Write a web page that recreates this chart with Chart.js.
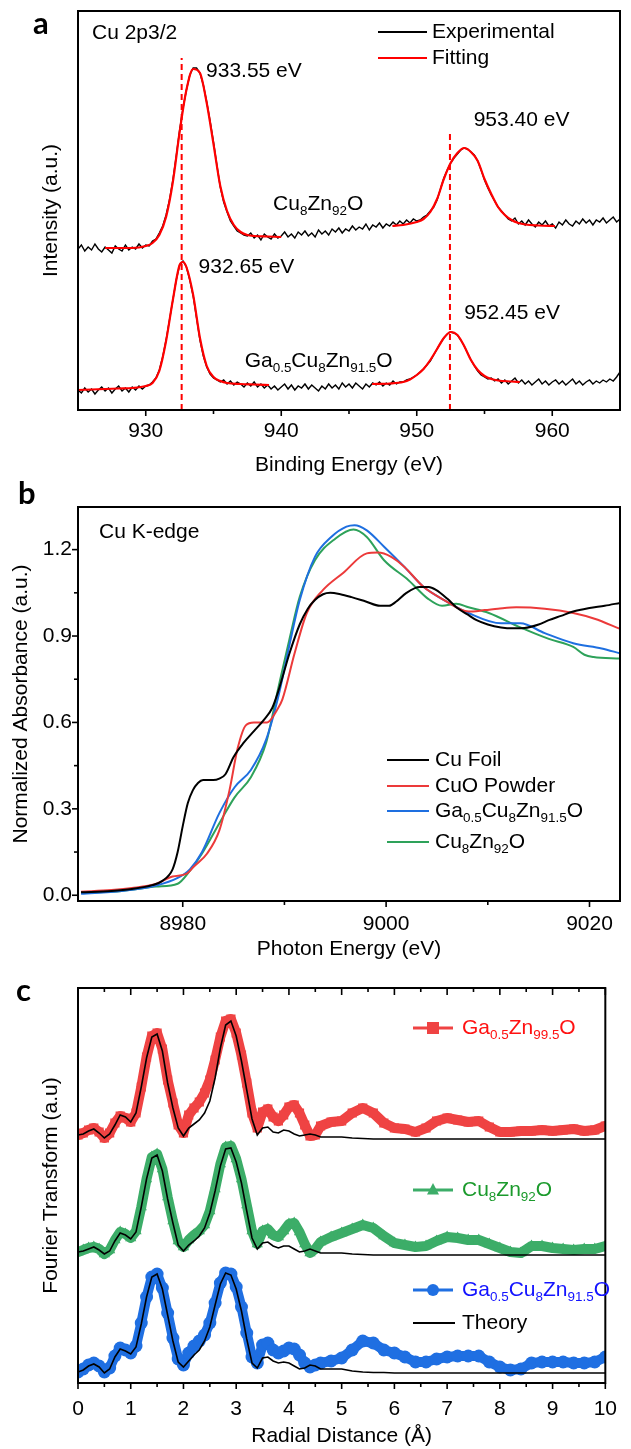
<!DOCTYPE html>
<html>
<head>
<meta charset="utf-8">
<script src="https://cdn.jsdelivr.net/npm/chart.js@4.4.1/dist/chart.umd.min.js"></script>
<style>
    html, body { margin: 0; padding: 0; background: #fff; }
    #wrap { position: relative; width: 631px; height: 1449px; overflow: hidden; }
    canvas { position: absolute; left: 0; }
</style>
</head>
<body>
<div id="wrap">
    <canvas id="xpsChart" width="631" height="480" style="top:0px"></canvas>
    <canvas id="xanesChart" width="631" height="480" style="top:480px"></canvas>
    <canvas id="exafsChart" width="631" height="489" style="top:960px"></canvas>
</div>
<script>
// ---------- Panel a: XPS Cu 2p (intensity in a.u.) ----------
const xpsEnergy = [
    925, 925.25, 925.5, 925.75, 926, 926.25, 926.5, 926.75,
    927, 927.25, 927.5, 927.75, 928, 928.25, 928.5, 928.75,
    929, 929.25, 929.5, 929.75, 930, 930.25, 930.5, 930.75,
    931, 931.25, 931.5, 931.75, 932, 932.25, 932.5, 932.75,
    933, 933.25, 933.5, 933.75, 934, 934.25, 934.5, 934.75,
    935, 935.25, 935.5, 935.75, 936, 936.25, 936.5, 936.75,
    937, 937.25, 937.5, 937.75, 938, 938.25, 938.5, 938.75,
    939, 939.25, 939.5, 939.75, 940, 940.25, 940.5, 940.75,
    941, 941.25, 941.5, 941.75, 942, 942.25, 942.5, 942.75,
    943, 943.25, 943.5, 943.75, 944, 944.25, 944.5, 944.75,
    945, 945.25, 945.5, 945.75, 946, 946.25, 946.5, 946.75,
    947, 947.25, 947.5, 947.75, 948, 948.25, 948.5, 948.75,
    949, 949.25, 949.5, 949.75, 950, 950.25, 950.5, 950.75,
    951, 951.25, 951.5, 951.75, 952, 952.25, 952.5, 952.75,
    953, 953.25, 953.5, 953.75, 954, 954.25, 954.5, 954.75,
    955, 955.25, 955.5, 955.75, 956, 956.25, 956.5, 956.75,
    957, 957.25, 957.5, 957.75, 958, 958.25, 958.5, 958.75,
    959, 959.25, 959.5, 959.75, 960, 960.25, 960.5, 960.75,
    961, 961.25, 961.5, 961.75, 962, 962.25, 962.5, 962.75,
    963, 963.25, 963.5, 963.75, 964, 964.25, 964.5, 964.75,
    965
]
const cuZnExp = [
    161, 165, 159, 163, 160, 166, 161, 158,
    163, 160, 157, 164, 161, 159, 165, 160,
    163, 161, 166, 162, 165, 164, 169, 171,
    177, 184, 195, 210, 230, 254, 280, 302,
    320, 335, 342, 342, 337, 325, 308, 289,
    268, 245, 223, 208, 198, 189, 184, 179,
    177, 175, 174, 177, 172, 175, 170, 176,
    173, 171, 176, 172, 174, 178, 173, 176,
    172, 178, 175, 179, 174, 177, 173, 180,
    176, 179, 175, 181, 178, 182, 177, 181,
    179, 184, 180, 183, 181, 186, 180, 185,
    183, 187, 182, 186, 184, 188, 185, 189,
    186, 190, 187, 191, 189, 190, 193, 195,
    199, 203, 210, 221, 232, 240, 247, 252,
    256, 260, 262, 261, 258, 255, 249, 240,
    230, 222, 215, 209, 203, 199, 195, 191,
    189, 192, 186, 189, 185, 190, 186, 183,
    188, 185, 189, 184, 186, 182, 188, 185,
    190, 186, 184, 189, 186, 191, 187, 190,
    185, 190, 188, 192, 187, 190, 193, 188,
    191
]
const gaCuZnExp = [
    20, 17, 22, 18, 21, 16, 20, 23,
    19, 22, 17, 21, 24, 19, 22, 18,
    23, 20, 24, 21, 24, 25, 28, 32,
    40, 53, 70, 90, 110, 130, 145, 149,
    143, 130, 114, 92, 70, 54, 43, 36,
    32, 30, 28, 30, 26, 29, 25, 28,
    26, 23, 27, 24, 28, 23, 26, 22,
    25, 21, 24, 20, 23, 26, 21, 25,
    20, 24, 22, 26, 21, 25, 22, 19,
    24, 21, 26, 22, 25, 21, 27, 23,
    26, 22, 27, 24, 21, 26, 23, 27,
    25, 28, 24, 27, 25, 29, 26, 28,
    28, 30, 31, 33, 35, 38, 41, 45,
    49, 55, 61, 67, 72, 76, 78, 77,
    75, 70, 64, 57, 50, 44, 39, 35,
    33, 31, 32, 29, 31, 27, 30, 26,
    29, 32, 27, 30, 26, 29, 25, 28,
    31, 26, 29, 25, 28, 30, 26, 29,
    25, 28, 31, 26, 29, 25, 28, 30,
    26, 29, 27, 30, 28, 31, 29, 33,
    38
]
// fitted envelopes (two segments per sample)
const cuZnFit1E = [927, 928, 929, 930, 930.5, 931, 931.5, 932, 932.5, 933, 933.5, 934, 934.5, 935, 935.5, 936, 936.5, 937, 937.5, 938, 939, 940]
const cuZnFit1I = [162, 162, 162, 164, 167, 175, 193, 228, 278, 320, 341, 337, 307, 266, 224, 199, 185, 178, 175, 174, 173.5, 173]
const cuZnFit2E = [948.2, 949, 950, 950.5, 951, 951.5, 952, 952.5, 953, 953.5, 954, 954.5, 955, 955.5, 956, 956.5, 957, 957.5, 958, 959, 960.2]
const cuZnFit2I = [184, 185, 188, 191, 198, 211, 231, 247, 257, 262, 258, 249, 231, 216, 203, 195, 190, 187, 185.5, 184.5, 184]
const gaFit1E = [925, 926, 927, 928, 929, 930, 930.5, 931, 931.5, 932, 932.5, 932.75, 933, 933.5, 934, 934.5, 935, 935.5, 936, 937, 938, 939.1]
const gaFit1I = [20, 20.5, 21, 21.5, 22, 24, 27, 39, 69, 110, 145, 148, 143, 115, 72, 44, 33, 29, 27, 26, 25.5, 25]
const gaFit2E = [946.7, 948, 949, 949.5, 950, 950.5, 951, 951.5, 952, 952.5, 953, 953.5, 954, 954.5, 955, 955.5, 956, 957, 957.6]
const gaFit2I = [26, 26.5, 28, 30.5, 35, 41, 50, 61, 72, 78, 75, 64, 50, 40, 34, 31, 29.5, 28.5, 28]
// peak reference lines
const peakLineE = [932.65, 952.45]
const peakLineTop = [352, 277]
const xpsMajorTicks = [930, 940, 950, 960]
const xpsMinorTicks = [935, 945, 955]

// ---------- Panel b: Cu K-edge XANES ----------
const cuFoilE = [8970, 8973, 8975, 8977, 8978, 8979, 8979.5, 8980, 8980.5, 8981, 8981.5, 8982, 8983, 8983.6, 8984.2, 8985, 8986, 8987, 8988, 8988.8, 8989.5, 8990.5, 8991.5, 8992.3, 8993, 8993.8, 8994.5, 8995.5, 8996.6, 8998, 8999.4, 9000.3, 9001, 9002, 9003.3, 9004.2, 9004.9, 9006, 9006.9, 9008, 9008.9, 9010, 9011.3, 9012.5, 9013.6, 9015, 9016, 9017.2, 9018.4, 9020, 9021.5, 9023]
const cuFoilMu = [0.010, 0.015, 0.022, 0.035, 0.05, 0.09, 0.15, 0.24, 0.32, 0.365, 0.39, 0.40, 0.40, 0.405, 0.42, 0.48, 0.53, 0.57, 0.61, 0.65, 0.72, 0.84, 0.94, 0.995, 1.025, 1.045, 1.05, 1.045, 1.035, 1.02, 1.005, 1.005, 1.02, 1.05, 1.07, 1.07, 1.06, 1.03, 1.0, 0.975, 0.955, 0.94, 0.93, 0.927, 0.928, 0.94, 0.955, 0.97, 0.985, 0.997, 1.005, 1.015]
const cuoE = [8970, 8973, 8975, 8977.4, 8979, 8980.4, 8981.1, 8982.4, 8983.6, 8984.6, 8985.4, 8986.2, 8987, 8988.3, 8989.3, 8989.8, 8991, 8992.2, 8993.8, 8995.8, 8998.1, 8999.2, 9000.5, 9001.8, 9003.7, 9005.7, 9008.1, 9009.7, 9011, 9012.8, 9015.6, 9018.4, 9020.5, 9023]
const cuoMu = [0.012, 0.018, 0.025, 0.04, 0.065, 0.075, 0.10, 0.145, 0.225, 0.365, 0.51, 0.59, 0.60, 0.60, 0.645, 0.68, 0.84, 0.98, 1.06, 1.12, 1.187, 1.19, 1.175, 1.14, 1.07, 1.025, 0.985, 0.99, 0.995, 1.0, 0.995, 0.98, 0.96, 0.925]
const gaCuZnE = [8970, 8974, 8977.4, 8979.5, 8980.7, 8981.9, 8983.6, 8985.1, 8986.7, 8988.2, 8989.4, 8990.5, 8991.5, 8993, 8994.6, 8996.1, 8996.9, 8998.1, 8999.8, 9001.8, 9003.7, 9005.7, 9008.1, 9011.3, 9013.2, 9015.6, 9018.4, 9021.2, 9023]
const gaCuZnMu = [0.005, 0.015, 0.034, 0.06, 0.09, 0.15, 0.285, 0.375, 0.435, 0.54, 0.69, 0.87, 1.024, 1.175, 1.244, 1.28, 1.285, 1.267, 1.21, 1.14, 1.07, 1.025, 0.98, 0.944, 0.944, 0.91, 0.875, 0.857, 0.84]
const cuZnE = [8970, 8974, 8977.4, 8979.5, 8980.7, 8981.9, 8983.6, 8985.1, 8986.7, 8988.2, 8989.4, 8990.5, 8991.5, 8993, 8995, 8996.8, 8998.1, 8999.8, 9002.2, 9004.1, 9005.5, 9006.9, 9008.1, 9010.1, 9013.2, 9016, 9018.4, 9019.5, 9020.4, 9023]
const cuZnMu = [0.008, 0.015, 0.03, 0.04, 0.085, 0.145, 0.25, 0.34, 0.41, 0.53, 0.72, 0.89, 1.035, 1.163, 1.238, 1.27, 1.244, 1.163, 1.094, 1.03, 1.005, 1.012, 1.0, 0.98, 0.93, 0.89, 0.862, 0.835, 0.827, 0.822]
const xanesXMajor = [8980, 9000, 9020]
const xanesXMinor = [8990, 9010]
const xanesYMajor = [0, 0.3, 0.6, 0.9, 1.2]
const xanesYMinor = [0.15, 0.45, 0.75, 1.05]

// ---------- Panel c: EXAFS Fourier transform (offset, a.u.) ----------
const radialR = [
    0, 0.1, 0.2, 0.3, 0.4, 0.5, 0.6, 0.7, 0.8, 0.9,
    1.0, 1.1, 1.2, 1.3, 1.4, 1.5, 1.6, 1.7, 1.8, 1.9,
    2.0, 2.1, 2.2, 2.3, 2.4, 2.5, 2.6, 2.7, 2.8, 2.9,
    3.0, 3.1, 3.2, 3.3, 3.4, 3.5, 3.6, 3.7, 3.8, 3.9,
    4.0, 4.1, 4.2, 4.3, 4.4, 4.5, 4.6,
    4.8, 5.0, 5.2, 5.4, 5.6, 5.8, 6.0, 6.2, 6.4, 6.6,
    6.8, 7.0, 7.2, 7.4, 7.6, 7.8, 8.0, 8.2, 8.4, 8.6,
    8.8, 9.0, 9.2, 9.4, 9.6, 9.8, 10.0
]
const gaZnFT = [
    248, 250, 253, 255, 251, 245, 250, 260, 267, 265,
    261, 270, 296, 326, 347, 350, 334, 303, 280, 258,
    250, 268, 275, 281, 290, 303, 323, 346, 362, 364,
    350, 328, 300, 270, 255, 271, 274, 266, 262, 268,
    276, 278, 270, 258, 247, 248, 257,
    261, 262, 270, 275, 270, 260, 255, 254, 251, 255,
    262, 265, 263, 261, 262, 256, 251, 251, 252, 252,
    253, 252, 253, 254, 252, 253, 257
]
const gaZnTheory = [
    248, 249, 252, 254, 250, 245, 249, 258, 268, 266,
    261, 270, 296, 325, 346, 349, 332, 300, 275, 255,
    247, 255, 259, 263, 270, 282, 305, 335, 358, 362,
    347, 322, 293, 264, 248, 255, 256, 251, 250, 253,
    252, 249, 247, 248, 249, 248, 246,
    246, 246, 245, 244.5, 244, 244, 244, 244, 244, 244,
    244, 244, 244, 244, 244, 244, 244, 244, 244, 244,
    244, 244, 244, 244, 244, 244, 244
]
const cuZnFT = [
    131, 133, 135, 136, 134, 129, 133, 143, 151, 149,
    145, 152, 176, 204, 226, 229, 214, 186, 162, 142,
    136, 143, 148, 152, 158, 172, 194, 219, 236, 237,
    224, 204, 178, 152, 139, 152, 154, 148, 146, 152,
    159, 160, 151, 139, 130, 134, 141,
    146, 150, 154, 158, 155, 147, 140, 138, 136, 137,
    142, 146, 145, 143, 143, 139, 135, 131, 130, 137,
    137, 135, 134, 133, 134, 134, 137
]
const cuZnTheory = [
    131, 132, 134, 136, 133, 129, 132, 142, 150, 148,
    144, 151, 176, 204, 225, 228, 212, 184, 160, 138,
    132, 138, 142, 147, 155, 170, 192, 217, 234, 235,
    221, 200, 172, 145, 134, 140, 141, 137, 135, 137,
    137, 134, 131, 132, 134, 132, 130,
    130, 130, 129, 128.5, 128, 128, 128, 128, 128, 128,
    128, 128, 128, 128, 128, 128, 128, 128, 128, 128,
    128, 128, 128, 128, 128, 128, 128
]
const gaCuZnFT = [
    11, 14, 18, 20, 17, 11, 15, 27, 35, 33,
    30, 37, 60, 86, 106, 109, 95, 70, 45, 24,
    18, 30, 37, 42, 48, 60, 80, 100, 110, 109,
    96, 76, 50, 26, 20, 38, 40, 33, 30, 32,
    35, 34, 28, 20, 16, 18, 20,
    22, 25, 33, 42, 40, 33, 30, 26, 21, 21,
    24, 26, 27, 27, 27, 21, 16, 13, 14, 20,
    21, 21, 21, 20, 20, 21, 26
]
const gaCuZnTheory = [
    11, 13, 17, 19, 16, 10, 14, 26, 34, 32,
    29, 36, 59, 86, 106, 109, 94, 68, 42, 21,
    16, 22, 28, 33, 42, 56, 78, 99, 110, 108,
    94, 72, 44, 20, 15, 25, 26, 22, 20, 21,
    20, 17, 14, 15, 18, 17, 14,
    14, 14, 12, 11, 10.5, 10.5, 10, 10, 10, 10,
    10, 10, 10, 10, 10, 10, 10, 10, 10, 10,
    10, 10, 10, 10, 10, 10, 10
]
const radialMajor = [0, 1, 2, 3, 4, 5, 6, 7, 8, 9, 10]
const radialMinor = [0.5, 1.5, 2.5, 3.5, 4.5, 5.5, 6.5, 7.5, 8.5, 9.5]

// colours
const RED = '#ff0000'
const XANES_COLORS = { foil: '#000000', cuo: '#ec3a3a', ga: '#1e6fe0', cuzn: '#2ea25a' }
const FT_COLORS = { ga: '#ef4343', cuzn: '#3cad68', gacu: '#1f6fe2' }
const FT_TEXT = { ga: '#ff1111', cuzn: '#1b9a2c', gacu: '#1313ff' }

const FONT = "'Liberation Sans', Arial, Helvetica, sans-serif"
Chart.defaults.font.family = FONT
Chart.defaults.color = '#000'

const toPoints = (xs, ys) => xs.map((x, i) => ({ x: x, y: ys[i] }))

/**
 * Split 'Cu_{8}Zn_{92}O' into normal / subscript pieces
 */
function richParts(label) {
    const parts = []
    const re = /_\{([^}]*)\}/g
    let last = 0
    let m
    while ((m = re.exec(label)) !== null) {
        if (m.index > last) parts.push([label.slice(last, m.index), false])
        parts.push([m[1], true])
        last = re.lastIndex
    }
    if (last < label.length) parts.push([label.slice(last), false])
    return parts
}

function drawRichText(ctx, label, x, y, size, color) {
    ctx.save()
    ctx.fillStyle = color
    ctx.textBaseline = 'middle'
    ctx.textAlign = 'left'
    let cx = x
    richParts(label).forEach(([text, sub]) => {
        const fs = sub ? size * 0.64 : size
        ctx.font = `${fs}px ${FONT}`
        ctx.fillText(text, cx, sub ? y + size * 0.34 : y)
        cx += ctx.measureText(text).width
    })
    ctx.restore()
}

function drawMarker(ctx, style, x, y, r, color) {
    ctx.save()
    ctx.fillStyle = color
    ctx.beginPath()
    if (style === 'rect') {
        ctx.rect(x - r, y - r, 2 * r, 2 * r)
    } else if (style === 'triangle') {
        ctx.moveTo(x, y - r * 1.15)
        ctx.lineTo(x + r, y + r * 0.75)
        ctx.lineTo(x - r, y + r * 0.75)
        ctx.closePath()
    } else {
        ctx.arc(x, y, r, 0, Math.PI * 2)
    }
    ctx.fill()
    ctx.restore()
}

// frame, tick marks, legends and text labels
const overlayPlugin = {
    id: 'overlay',
    afterDatasetsDraw(chart, args, opts) {
        const { ctx, chartArea: area } = chart

        ctx.save()
        ctx.strokeStyle = '#000'
        ctx.lineWidth = 2
        ctx.strokeRect(area.left, area.top, area.right - area.left, area.bottom - area.top)

        ctx.lineWidth = 1.6
        ;(opts.tickSets || []).forEach(set => {
            const scale = chart.scales[set.axis]
            set.values.forEach(v => {
                const p = scale.getPixelForValue(v)
                ctx.beginPath()
                if (set.side === 'bottom') {
                    ctx.moveTo(p, area.bottom)
                    ctx.lineTo(p, area.bottom + set.len)
                } else if (set.side === 'top') {
                    ctx.moveTo(p, area.top)
                    ctx.lineTo(p, area.top + set.len)
                } else {
                    ctx.moveTo(area.left, p)
                    ctx.lineTo(area.left - set.len, p)
                }
                ctx.stroke()
            })
        })
        ctx.restore()

        ;(opts.legend || []).forEach(item => {
            ctx.save()
            ctx.strokeStyle = item.color
            ctx.lineWidth = item.width || 2
            ctx.beginPath()
            ctx.moveTo(item.x0, item.y)
            ctx.lineTo(item.x1, item.y)
            ctx.stroke()
            ctx.restore()
            if (item.marker) drawMarker(ctx, item.marker, (item.x0 + item.x1) / 2, item.y, 6, item.color)
            drawRichText(ctx, item.label, item.x1 + item.gap, item.y, 21, item.textColor || '#000')
        })

        ;(opts.texts || []).forEach(t => {
            let x = t.x
            let y = t.y
            if (t.data) {
                x = chart.scales.x.getPixelForValue(t.x)
                y = chart.scales.y.getPixelForValue(t.y)
            }
            drawRichText(ctx, t.text, x, y, 21, '#000')
        })

        if (opts.letter) {
            ctx.save()
            ctx.font = `bold 31px Lato, 'Open Sans', sans-serif`
            ctx.fillStyle = '#000'
            ctx.textBaseline = 'middle'
            ctx.fillText(opts.letter.text, opts.letter.x, opts.letter.y)
            ctx.restore()
        }
    }
}

function axisTitle(text, padding) {
    return { display: true, text: text, color: '#000', font: { family: FONT, size: 21, lineHeight: 1 }, padding: padding }
}

function fixedTicks(values) {
    return scale => { scale.ticks = values.map(v => ({ value: v })) }
}

// plain labels, no thousands separator
const plainLabel = v => String(v)

const baseOptions = {
    responsive: false,
    animation: false,
    devicePixelRatio: 1,
    events: [],
    elements: { point: { radius: 0 }, line: { tension: 0 } }
}

// ---------- build panel a ----------
const xpsDatasets = [
    ...peakLineE.map((e, i) => ({
        data: toPoints([e, e], [0, peakLineTop[i]]),
        borderColor: RED, borderWidth: 2, borderDash: [6, 4], order: 0
    })),
    { data: toPoints(cuZnFit1E, cuZnFit1I), borderColor: RED, borderWidth: 2.2, cubicInterpolationMode: 'monotone', order: 1 },
    { data: toPoints(cuZnFit2E, cuZnFit2I), borderColor: RED, borderWidth: 2.2, cubicInterpolationMode: 'monotone', order: 1 },
    { data: toPoints(gaFit1E, gaFit1I), borderColor: RED, borderWidth: 2.2, cubicInterpolationMode: 'monotone', order: 1 },
    { data: toPoints(gaFit2E, gaFit2I), borderColor: RED, borderWidth: 2.2, cubicInterpolationMode: 'monotone', order: 1 },
    { data: toPoints(xpsEnergy, cuZnExp), borderColor: '#000', borderWidth: 1.4, order: 2 },
    { data: toPoints(xpsEnergy, gaCuZnExp), borderColor: '#000', borderWidth: 1.4, order: 2 }
]

new Chart(document.getElementById('xpsChart'), {
    type: 'line',
    data: { datasets: xpsDatasets },
    options: {
        ...baseOptions,
        layout: { padding: { top: 11, right: 11, left: 0, bottom: 0 } },
        scales: {
            x: {
                type: 'linear', min: 925, max: 965,
                afterBuildTicks: fixedTicks(xpsMajorTicks),
                afterFit: s => { s.height = 70 },
                grid: { display: false, drawTicks: false },
                border: { display: false },
                ticks: { font: { size: 21 }, color: '#000', padding: 9, maxRotation: 0, callback: plainLabel },
                title: axisTitle('Binding Energy (eV)', { top: 0, bottom: 4 })
            },
            y: {
                min: 0, max: 399,
                afterFit: s => { s.width = 78 },
                grid: { display: false, drawTicks: false },
                border: { display: false },
                ticks: { display: false },
                title: axisTitle('Intensity (a.u.)', { top: 41, bottom: 0 })
            }
        },
        plugins: {
            legend: { display: false },
            tooltip: { enabled: false },
            overlay: {
                letter: { text: 'a', x: 33, y: 24 },
                tickSets: [
                    { axis: 'x', side: 'bottom', values: xpsMajorTicks, len: 6 },
                    { axis: 'x', side: 'bottom', values: xpsMinorTicks, len: 4 }
                ],
                legend: [
                    { label: 'Experimental', color: '#000', x0: 378, x1: 427, gap: 5, y: 32 },
                    { label: 'Fitting', color: RED, x0: 378, x1: 427, gap: 5, y: 58 }
                ],
                texts: [
                    { text: 'Cu 2p3/2', x: 92, y: 33 },
                    { text: '933.55 eV', x: 934.45, y: 339, data: true },
                    { text: '953.40 eV', x: 954.2, y: 290, data: true },
                    { text: 'Cu_{8}Zn_{92}O', x: 939.4, y: 206, data: true },
                    { text: '932.65 eV', x: 933.9, y: 143, data: true },
                    { text: '952.45 eV', x: 953.5, y: 97, data: true },
                    { text: 'Ga_{0.5}Cu_{8}Zn_{91.5}O', x: 937.3, y: 49, data: true }
                ]
            }
        }
    },
    plugins: [overlayPlugin]
})

// ---------- build panel b ----------
new Chart(document.getElementById('xanesChart'), {
    type: 'line',
    data: {
        datasets: [
            { data: toPoints(cuZnE, cuZnMu), borderColor: XANES_COLORS.cuzn, borderWidth: 2, cubicInterpolationMode: 'monotone', order: 4 },
            { data: toPoints(gaCuZnE, gaCuZnMu), borderColor: XANES_COLORS.ga, borderWidth: 2, cubicInterpolationMode: 'monotone', order: 3 },
            { data: toPoints(cuoE, cuoMu), borderColor: XANES_COLORS.cuo, borderWidth: 2, cubicInterpolationMode: 'monotone', order: 2 },
            { data: toPoints(cuFoilE, cuFoilMu), borderColor: XANES_COLORS.foil, borderWidth: 2, cubicInterpolationMode: 'monotone', order: 1 }
        ]
    },
    options: {
        ...baseOptions,
        layout: { padding: { top: 27, right: 11, left: 0, bottom: 0 } },
        scales: {
            x: {
                type: 'linear', min: 8969.7, max: 9023,
                afterBuildTicks: fixedTicks(xanesXMajor),
                afterFit: s => { s.height = 59 },
                grid: { display: false, drawTicks: false },
                border: { display: false },
                ticks: { font: { size: 21 }, color: '#000', padding: 11, maxRotation: 0, callback: plainLabel },
                title: axisTitle('Photon Energy (eV)', { top: 0, bottom: 0 })
            },
            y: {
                min: -0.02, max: 1.348,
                afterBuildTicks: fixedTicks(xanesYMajor),
                afterFit: s => { s.width = 78 },
                grid: { display: false, drawTicks: false },
                border: { display: false },
                ticks: { font: { size: 21 }, color: '#000', padding: 6, callback: v => v.toFixed(1) },
                title: axisTitle('Normalized Absorbance (a.u.)', { top: 11, bottom: 0 })
            }
        },
        plugins: {
            legend: { display: false },
            tooltip: { enabled: false },
            overlay: {
                letter: { text: 'b', x: 18, y: 14 },
                tickSets: [
                    { axis: 'x', side: 'bottom', values: xanesXMajor, len: 6 },
                    { axis: 'x', side: 'bottom', values: xanesXMinor, len: 4 },
                    { axis: 'y', side: 'left', values: xanesYMajor, len: 6 },
                    { axis: 'y', side: 'left', values: xanesYMinor, len: 4 }
                ],
                legend: [
                    { label: 'Cu Foil', color: XANES_COLORS.foil, x0: 387, x1: 429, gap: 6, y: 280 },
                    { label: 'CuO Powder', color: XANES_COLORS.cuo, x0: 387, x1: 429, gap: 6, y: 306 },
                    { label: 'Ga_{0.5}Cu_{8}Zn_{91.5}O', color: XANES_COLORS.ga, x0: 387, x1: 429, gap: 6, y: 331 },
                    { label: 'Cu_{8}Zn_{92}O', color: XANES_COLORS.cuzn, x0: 387, x1: 429, gap: 6, y: 362 }
                ],
                texts: [
                    { text: 'Cu K-edge', x: 99, y: 52 }
                ]
            }
        }
    },
    plugins: [overlayPlugin]
})

// ---------- build panel c ----------
function ftSample(values, color, style) {
    return {
        data: toPoints(radialR, values),
        borderColor: color, borderWidth: 10, borderJoinStyle: 'round', borderCapStyle: 'round',
        pointStyle: style, pointRadius: 6.5, pointBackgroundColor: color, pointBorderWidth: 0,
        order: 2
    }
}
function ftTheory(values) {
    return { data: toPoints(radialR, values), borderColor: '#000', borderWidth: 1.6, order: 1 }
}

new Chart(document.getElementById('exafsChart'), {
    type: 'line',
    data: {
        datasets: [
            ftSample(gaZnFT, FT_COLORS.ga, 'rect'),
            ftSample(cuZnFT, FT_COLORS.cuzn, 'triangle'),
            ftSample(gaCuZnFT, FT_COLORS.gacu, 'circle'),
            ftTheory(gaZnTheory),
            ftTheory(cuZnTheory),
            ftTheory(gaCuZnTheory)
        ]
    },
    options: {
        ...baseOptions,
        layout: { padding: { top: 28, right: 11, left: 0, bottom: 0 } },
        scales: {
            x: {
                type: 'linear', min: 0, max: 10,
                afterBuildTicks: fixedTicks(radialMajor),
                afterFit: s => { s.height = 66 },
                grid: { display: false, drawTicks: false },
                border: { display: false },
                ticks: { font: { size: 21 }, color: '#000', padding: 14, maxRotation: 0, callback: plainLabel },
                title: axisTitle('Radial Distance (Å)', { top: 0, bottom: 2 })
            },
            y: {
                min: 0, max: 395,
                afterFit: s => { s.width = 78 },
                grid: { display: false, drawTicks: false },
                border: { display: false },
                ticks: { display: false },
                title: axisTitle('Fourier Transform (a.u)', { top: 41, bottom: 0 })
            }
        },
        plugins: {
            legend: { display: false },
            tooltip: { enabled: false },
            overlay: {
                letter: { text: 'c', x: 16, y: 31 },
                tickSets: [
                    { axis: 'x', side: 'bottom', values: radialMajor, len: 6 },
                    { axis: 'x', side: 'bottom', values: radialMinor, len: 4 },
                    { axis: 'x', side: 'top', values: radialMajor, len: 7 },
                    { axis: 'x', side: 'top', values: radialMinor, len: 4 }
                ],
                legend: [
                    { label: 'Ga_{0.5}Zn_{99.5}O', color: FT_COLORS.ga, textColor: FT_TEXT.ga, marker: 'rect', x0: 413, x1: 453, gap: 9, y: 68, width: 3 },
                    { label: 'Cu_{8}Zn_{92}O', color: FT_COLORS.cuzn, textColor: FT_TEXT.cuzn, marker: 'triangle', x0: 413, x1: 453, gap: 9, y: 230, width: 3 },
                    { label: 'Ga_{0.5}Cu_{8}Zn_{91.5}O', color: FT_COLORS.gacu, textColor: FT_TEXT.gacu, marker: 'circle', x0: 413, x1: 453, gap: 9, y: 330, width: 3 },
                    { label: 'Theory', color: '#000', x0: 413, x1: 455, gap: 7, y: 363, width: 2 }
                ]
            }
        }
    },
    plugins: [overlayPlugin]
})
</script>
</body>
</html>
